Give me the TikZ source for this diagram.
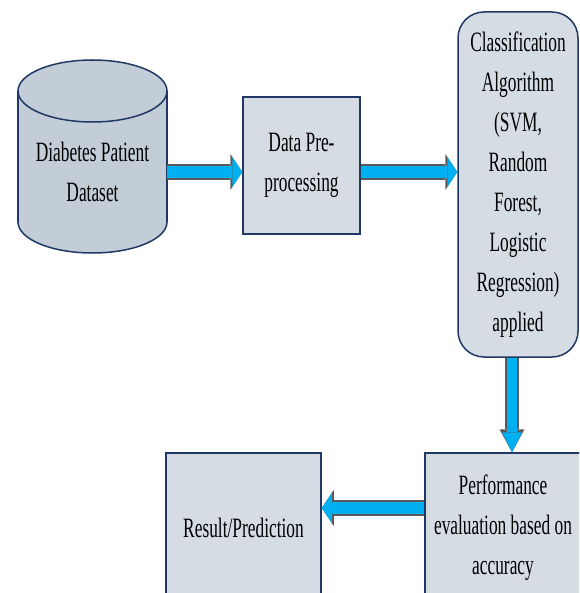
\documentclass[tikz,border=0pt]{standalone}
\usepackage{fontspec}
\setmainfont{Liberation Serif}[FakeStretch=0.62]
\usetikzlibrary{arrows.meta,calc}

\definecolor{boxline}{HTML}{1F3864}
\definecolor{boxfill}{HTML}{D6DCE4}
\definecolor{cylfill}{HTML}{C3CDD7}
\definecolor{arrowblue}{HTML}{00B0F0}
\definecolor{arrowedge}{HTML}{5A5A5A}

\tikzset{
  txt/.style={align=center, inner sep=0pt, font=\fontsize{14}{20}\selectfont},
  stage/.style={txt, draw=boxline, fill=boxfill, line width=0.75pt},
  cyl/.style={draw=boxline, fill=cylfill, line width=0.75pt},
  flow/.style={line width=6pt, draw=arrowblue,
    -{Triangle[length=5pt,width=15pt,line width=0pt]},
    preaction={draw=arrowedge, line width=8pt,
      -{Triangle[length=6pt,width=18pt,line width=0pt]}}},
  downflow/.style={line width=5pt, draw=arrowblue,
    -{Triangle[length=10pt,width=10pt,line width=0pt]},
    preaction={draw=arrowedge, line width=7pt,
      -{Triangle[length=11.5pt,width=12.5pt,line width=0pt]}}}
}

\begin{document}
\begin{tikzpicture}[x=0.5pt,y=-0.5pt]
\useasboundingbox (0,0) rectangle (579,593);
\clip (0,0) rectangle (579,593);

% dataset drum
\filldraw[cyl] (92.5,222) ellipse[x radius=74.5,y radius=31];
\fill[cylfill] (18,91) rectangle (167,222);
\draw[draw=boxline, line width=0.75pt] (18,91) -- (18,222) (167,91) -- (167,222);
\filldraw[cyl] (92.5,91) ellipse[x radius=74.5,y radius=31];
\node[txt, minimum width=74.5pt] (db) at (92.5,172) {Diabetes Patient\\Dataset};

% processing stages
\node[stage, minimum width=58.5pt, minimum height=68.5pt] (prep) at (301.5,165.5) {Data Pre-\\processing};
\node[stage, rounded corners=13pt, minimum width=60pt, minimum height=172.5pt] (cls) at (518,184.5)
  {Classification\\Algorithm\\(SVM,\\Random\\Forest,\\Logistic\\Regression)\\applied};
\node[stage, minimum width=78pt, minimum height=75pt] (perf) at (503,528)
  {Performance\\evaluation based on\\accuracy};
\node[stage, minimum width=77.5pt, minimum height=75pt] (res) at (243.5,528) {Result/Prediction};

% arrows
\draw[flow] (db.east) -- (db.east -| prep.west);
\draw[flow] (db.east -| prep.east) -- (db.east -| cls.west);
\draw[downflow] ([xshift=-3pt]cls.south) -- ([xshift=-3pt]cls.south |- perf.north);
\draw[flow] ([yshift=10pt]perf.west) -- ([yshift=10pt]res.east);
\end{tikzpicture}
\end{document}
